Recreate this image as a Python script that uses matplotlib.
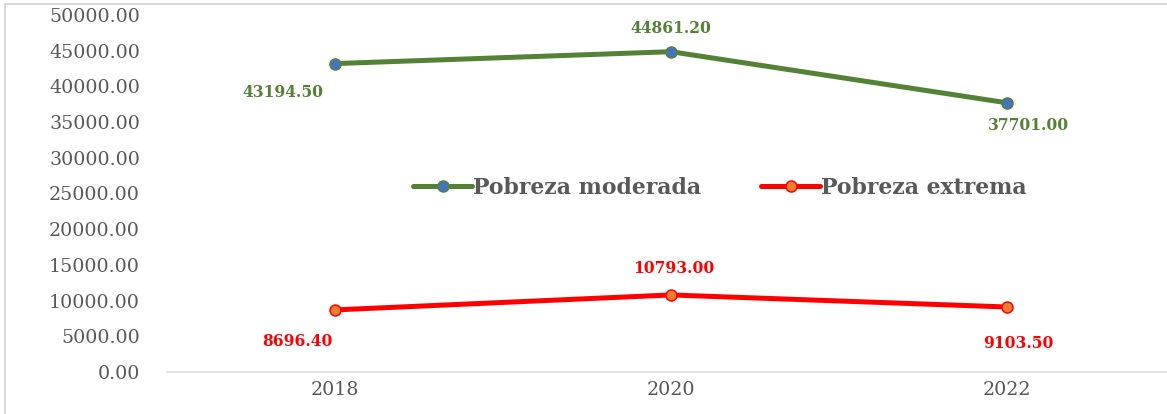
import matplotlib.pyplot as plt
from matplotlib.lines import Line2D

# data
years = ['2018', '2020', '2022']
moderada = [43194.50, 44861.20, 37701.00]
extrema = [8696.40, 10793.00, 9103.50]
yticks = [0, 5000, 10000, 15000, 20000, 25000, 30000, 35000, 40000, 45000, 50000]

plt.rcParams['font.family'] = ['DejaVu Serif', 'Liberation Serif']

# 1 pt = 1 px
fig = plt.figure(figsize=(1167 / 72, 414 / 72), dpi=72)
ax = fig.add_axes([167 / 1167, 42 / 414, 1008 / 1167, 357 / 414])

x = list(range(len(years)))
ax.plot(x, moderada, color='#548235', lw=5, marker='o', ms=11,
        mfc='#4472C4', mec='#548235', mew=1.5, label='Pobreza moderada',
        solid_capstyle='round')
ax.plot(x, extrema, color='#FF0000', lw=5, marker='o', ms=11,
        mfc='#ED7D31', mec='#FF0000', mew=1.5, label='Pobreza extrema',
        solid_capstyle='round')

# data labels (offsets in px)
off_mod = [(-52, -29), (0, 23), (21, -23)]
off_ext = [(-38, -32), (3, 26), (11, -36)]
for i in x:
    ax.annotate(f'{moderada[i]:.2f}', (i, moderada[i]), xytext=off_mod[i],
                textcoords='offset points', ha='center', va='center',
                color='#548235', fontsize=15.5, fontweight='bold')
    ax.annotate(f'{extrema[i]:.2f}', (i, extrema[i]), xytext=off_ext[i],
                textcoords='offset points', ha='center', va='center',
                color='#FF0000', fontsize=15.5, fontweight='bold')

ax.set_xlim(-0.5, 2.5)
ax.set_ylim(0, 50000)
ax.set_xticks(x)
ax.set_xticklabels(years)
ax.set_yticks(yticks)
ax.set_yticklabels([f'{v:.2f}' for v in yticks])
ax.tick_params(axis='both', length=0, labelsize=19, colors='#595959')
ax.tick_params(axis='y', pad=27)
ax.tick_params(axis='x', pad=9)
for s in ['top', 'right', 'left']:
    ax.spines[s].set_visible(False)
ax.spines['bottom'].set_color('#D9D9D9')
ax.spines['bottom'].set_linewidth(1.5)

leg = ax.legend(loc='center', bbox_to_anchor=(720 / 1167, 1 - 188 / 414),
                bbox_transform=fig.transFigure, ncol=2, frameon=False,
                prop={'size': 22, 'weight': 'bold'}, handlelength=2.7,
                handletextpad=0.05, columnspacing=2.7)
for t in leg.get_texts():
    t.set_color('#595959')

# outer frame
fig.add_artist(Line2D([5 / 1167, 5 / 1167], [0, 1 - 4 / 414], color='#D9D9D9', lw=2))
fig.add_artist(Line2D([5 / 1167, 1], [1 - 4 / 414, 1 - 4 / 414], color='#D9D9D9', lw=2))

fig.savefig('out.png', dpi=72)
